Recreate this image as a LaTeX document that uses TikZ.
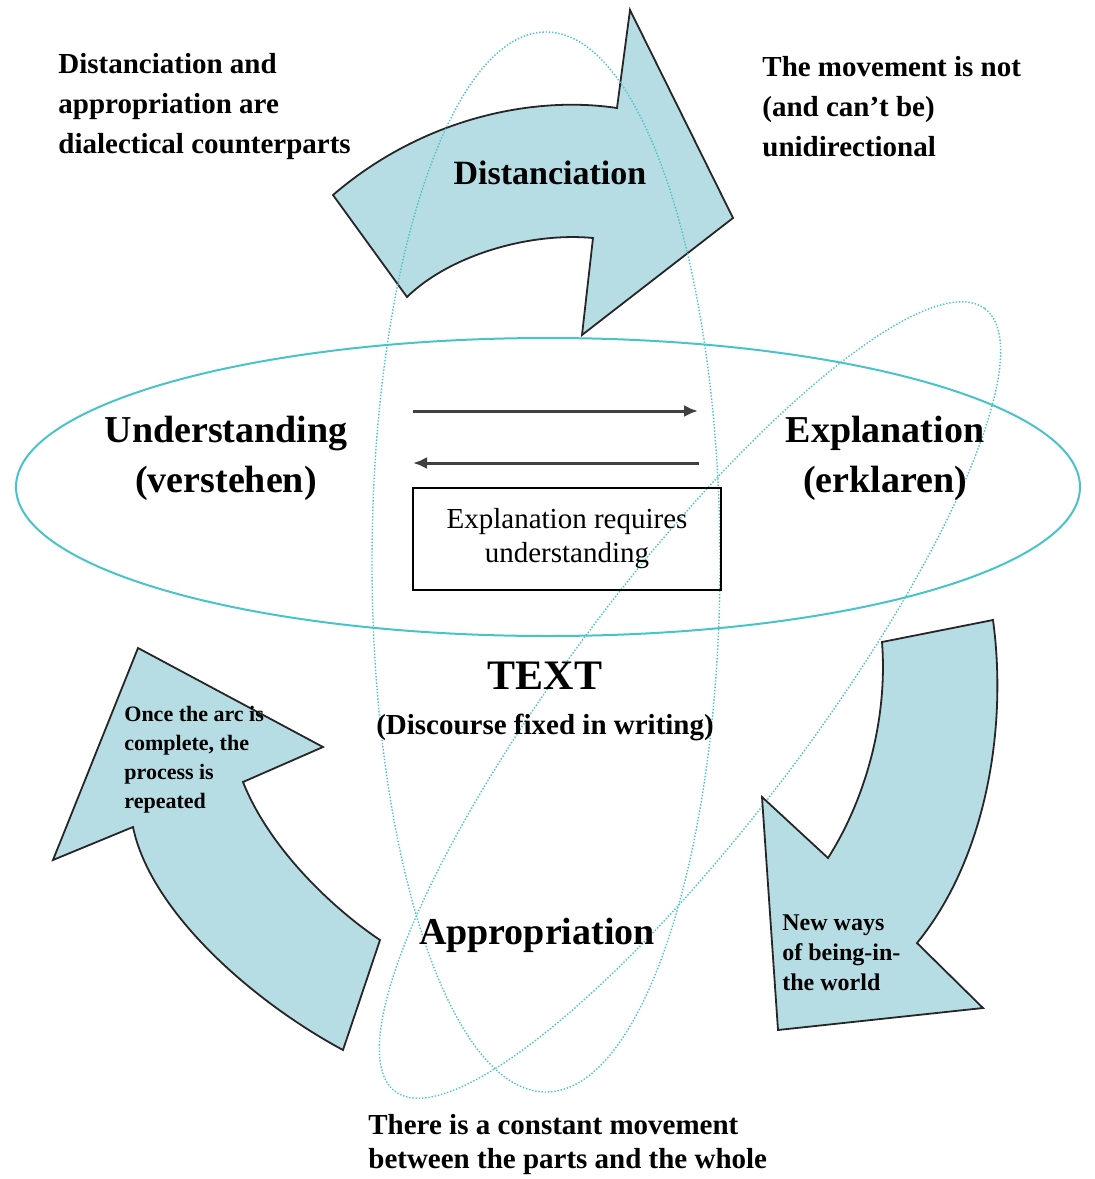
\documentclass[tikz,border=0pt]{standalone}
\usepackage{fontspec}
\usetikzlibrary{arrows.meta}
\setmainfont{Liberation Serif}
\definecolor{ringc}{RGB}{72,196,200}
\definecolor{arrowfill}{RGB}{183,221,228}

\begin{document}
\begin{tikzpicture}[x=0.5pt,y=-0.5pt,
	ring/.style={draw=ringc, line width=1pt},
	dotring/.style={draw=ringc, line width=0.7pt, dash pattern=on 0.7pt off 0.9pt},
	flowarrow/.style={fill=arrowfill, draw=black!85, line width=0.9pt, line join=miter},
	note/.style={font=\bfseries\fontsize{14.5}{20}\selectfont, align=left, anchor=west, inner sep=0pt},
	pole/.style={font=\bfseries\fontsize{19}{25}\selectfont, align=center, inner sep=0pt},
	dirarrow/.style={draw=black!75, line width=1.5pt, -{Latex[length=7pt,width=6pt]}}]
	\useasboundingbox (0,0) rectangle (1094,1179);
	\draw [dotring, rotate around={53:(690,700)}] (690,700) ellipse [x radius=490, y radius=122];
	\draw [flowarrow] (333,195) .. controls (420,120) and (530,95) .. (617,108) -- (630,10) -- (733,218)
		-- (582,335) -- (593,238) .. controls (530,232) and (450,255) .. (407,297) -- cycle;
	\draw [flowarrow] (993,620) .. controls (1008,730) and (985,860) .. (917,943) -- (983,1008) -- (778,1030)
		-- (762,797) -- (828,858) .. controls (865,800) and (888,720) .. (882,642) -- cycle;
	\draw [flowarrow] (380,940) .. controls (335,910) and (270,850) .. (243,782) -- (323,747) -- (138,648)
		-- (53,860) -- (133,827) .. controls (150,910) and (250,1000) .. (343,1050) -- cycle;
	\draw [dotring] (546,562) ellipse [x radius=174, y radius=530];
	\draw [ring] (548,487) ellipse [x radius=532, y radius=149];
	\node [note] (dialectic) at (58,107) {Distanciation and\\appropriation are\\dialectical counterparts};
	\node [note] (notone) at (762,107) {The movement is not\\(and can’t be)\\unidirectional};
	\node [font=\bfseries\fontsize{17}{20}\selectfont] (dist) at (550,173) {Distanciation};
	\node [pole] (under) at (226,458) {Understanding\\(verstehen)};
	\node [pole] (expl) at (885,458) {Explanation\\(erklaren)};
	\coordinate (fwdA) at (413,411);
	\coordinate (fwdB) at (698,411);
	\coordinate (backA) at (699,463);
	\coordinate (backB) at (413,463);
	\draw [dirarrow] (fwdA) -- (fwdB);
	\draw [dirarrow] (backA) -- (backB);
	\node [draw, line width=0.7pt, minimum width=154pt, minimum height=51pt, align=center,
		font=\fontsize{14.5}{17}\selectfont] (needs) at (567,539) {Explanation requires\\understanding};
	\node [font=\bfseries\fontsize{21}{24}\selectfont, inner sep=0pt] (text) at (545,676) {TEXT};
	\node [font=\bfseries\fontsize{14.5}{17}\selectfont, inner sep=0pt] (fixed) at (545,727) {(Discourse fixed in writing)};
	\node [pole] (appr) at (537,935) {Appropriation};
	\node [note, font=\bfseries\fontsize{11}{14.5}\selectfont] (again) at (124,760) {Once the arc is\\complete, the\\process is\\repeated};
	\node [note, font=\bfseries\fontsize{12}{15}\selectfont] (newways) at (782,953) {New ways\\of being-in-\\the world};
	\node [note, font=\bfseries\fontsize{14.5}{17}\selectfont] (whole) at (368,1145) {There is a constant movement\\between the parts and the whole};
\end{tikzpicture}
\end{document}
